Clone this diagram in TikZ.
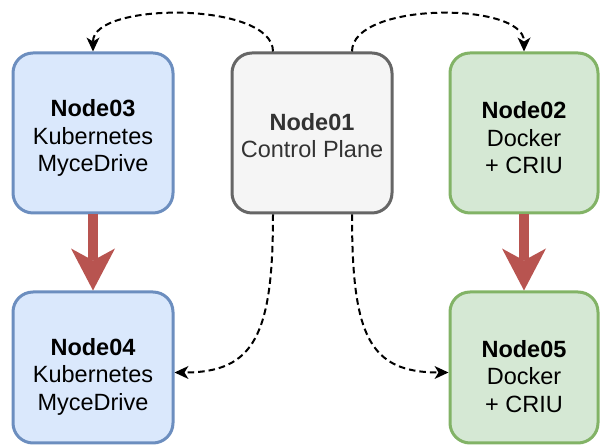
\documentclass[tikz,border=0pt]{standalone}
\usepackage{fontspec}
\setmainfont{Liberation Sans}
\usetikzlibrary{arrows.meta}
\usetikzlibrary{calc}

\definecolor{kubefill}{HTML}{DAE8FC}
\definecolor{kubeline}{HTML}{6C8EBF}
\definecolor{dockfill}{HTML}{D5E8D4}
\definecolor{dockline}{HTML}{82B366}
\definecolor{ctrlfill}{HTML}{F5F5F5}
\definecolor{ctrlline}{HTML}{666666}
\definecolor{ctrltext}{HTML}{333333}
\definecolor{migred}{HTML}{B85450}

\newcommand{\hosttitle}[2]{\rule{0pt}{#1}\textbf{#2}}

\begin{document}
\begin{tikzpicture}[x=1pt,y=1pt,
    box/.style={draw,rectangle,rounded corners=20pt,line width=3pt,minimum width=160pt,minimum height=160pt,inner sep=0pt,align=center,font=\fontsize{23.5}{27.5}\selectfont},
    kube/.style={box,draw=kubeline,fill=kubefill},
    dock/.style={box,draw=dockline,fill=dockfill,minimum width=148pt},
    ctrl/.style={box,draw=ctrlline,fill=ctrlfill,text=ctrltext},
    migrate/.style={line width=10pt,draw=migred,-{Stealth[length=42pt,width=44pt,inset=12pt,line width=0pt,fill=migred]}},
    sync/.style={line width=2pt,dash pattern=on 6.5pt off 4pt,-{Stealth[length=14pt,width=13pt,inset=4pt,line width=0pt]}}]
      \useasboundingbox (0,0) rectangle (600,446);

      \node[kube] (n03) at (93,313) {\hosttitle{27pt}{Node03}\\Kubernetes\\MyceDrive};
      \node[ctrl] (n01) at (312,313) {\hosttitle{22pt}{Node01}\\Control Plane};
      \node[dock] (n02) at (524,313) {\hosttitle{27pt}{Node02}\\Docker\\+ CRIU};
      \node[kube,minimum height=151pt] (n04) at (93,78.5) {\hosttitle{35pt}{Node04}\\Kubernetes\\MyceDrive};
      \node[dock,minimum height=151pt] (n05) at (524,78.5) {\hosttitle{35pt}{Node05}\\Docker\\+ CRIU};

      \draw[migrate] (n03) -- (n04);
      \draw[migrate] (n02) -- (n05);

      \draw[sync] ([xshift=-39pt]n01.north) .. controls +(0,50) and +(0,50) .. (n03.north);
      \draw[sync] ([xshift=40pt]n01.north) .. controls +(0,50) and +(0,50) .. (n02.north);
      \draw[sync] ([xshift=-39pt]n01.south) .. controls +(0,-120) and +(80,0) .. ([yshift=-5pt]n04.east);
      \draw[sync] ([xshift=40pt]n01.south) .. controls +(0,-120) and +(-80,0) .. ([yshift=-5pt]n05.west);
    \end{tikzpicture}
\end{document}
